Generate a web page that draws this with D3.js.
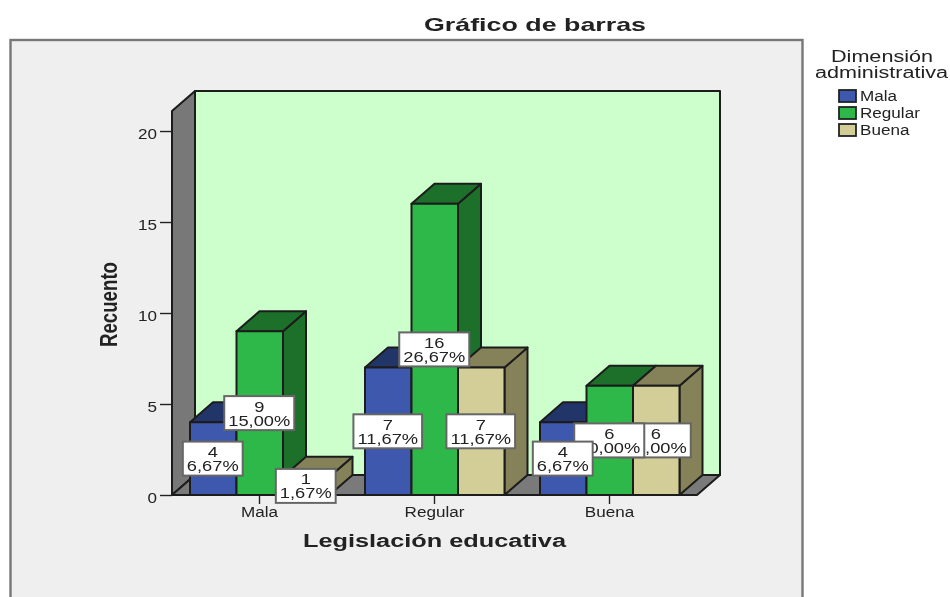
<!DOCTYPE html>
<html>
<head>
<meta charset="utf-8">
<script src="https://cdn.jsdelivr.net/npm/d3@7"></script>
<style>
  body { margin: 0; background: #fff; }
  svg { display: block; }
  text { font-family: "Liberation Sans", Arial, sans-serif; fill: #222; }
</style>
</head>
<body>
<svg id="chart" width="950" height="597"></svg>
<script>
// values
const categories = ["Mala", "Regular", "Buena"];
const series = ["Mala", "Regular", "Buena"];
const counts = [[4, 9, 1], [7, 16, 7], [4, 6, 6]];
const percents = [["6,67%", "15,00%", "1,67%"], ["11,67%", "26,67%", "11,67%"], ["6,67%", "10,00%", "10,00%"]];
const yTicks = [0, 5, 10, 15, 20];

const fronts = ["#3e58ac", "#2eb848", "#d3ce97"];
const tops = ["#233669", "#1c6f2c", "#858159"];

const dx = 23, dy = -20; // depth of the 3d box
const stretch = 1.22;    // the picture is stretched sideways

const svg = d3.select("#chart");
svg.append("defs").append("filter").attr("id", "soft")
  .append("feGaussianBlur").attr("stdDeviation", 0.45);
const root = svg.append("g").attr("filter", "url(#soft)");

const x = d3.scaleBand().domain(categories).range([172, 697]);
const x1 = d3.scaleBand().domain(series).range([18, 157.5]);
const y = d3.scaleLinear().domain([0, 21.1]).range([495, 111]);

const line = d3.line();
const poly = (pts, fill) => root.append("path")
  .attr("d", line(pts) + "Z")
  .attr("fill", fill).attr("stroke", "#1c1c1c").attr("stroke-width", 2)
  .attr("stroke-linejoin", "round");

// stretch a text to k times its natural width
function widen(t, k) {
  t.attr("textLength", t.node().getComputedTextLength() * k)
    .attr("lengthAdjust", "spacingAndGlyphs");
  return t;
}
function label(txt, px, py, size, weight, width, anchor) {
  const t = root.append("text").attr("x", px).attr("y", py)
    .attr("font-size", size).attr("font-weight", weight)
    .attr("text-anchor", anchor || "middle").text(txt);
  t.attr("textLength", width).attr("lengthAdjust", "spacingAndGlyphs");
  return t;
}

// outer panel
root.append("rect").attr("x", 10.5).attr("y", 40).attr("width", 792).attr("height", 620)
  .attr("fill", "#efefef").attr("stroke", "#777").attr("stroke-width", 2.4);

// walls and floor
const x0 = x.range()[0], xEnd = x.range()[1];
const yBase = y(0), yTop = y.range()[1];
poly([[x0 + dx, yBase + dy], [xEnd + dx, yBase + dy], [xEnd + dx, yTop + dy], [x0 + dx, yTop + dy]], "#ccffcc");
poly([[x0, yBase], [x0 + dx, yBase + dy], [x0 + dx, yTop + dy], [x0, yTop]], "#787878");
poly([[x0, yBase], [xEnd, yBase], [xEnd + dx, yBase + dy], [x0 + dx, yBase + dy]], "#7a7a7a");

// axes
const yAxis = root.append("g").attr("transform", `translate(${x0},0)`)
  .call(d3.axisLeft(y).tickValues(yTicks).tickSize(12).tickPadding(3));
yAxis.select(".domain").remove();
yAxis.selectAll("line").attr("stroke", "#222").attr("stroke-width", 1.4);
yAxis.selectAll("text").attr("font-size", 14).attr("dy", "0.5em")
  .style("font-family", '"Liberation Sans"').each(function() { widen(d3.select(this), stretch); });

const xAxis = root.append("g").attr("transform", `translate(0,${yBase})`)
  .call(d3.axisBottom(x).tickSize(9).tickPadding(3));
xAxis.select(".domain").remove();
xAxis.selectAll("line").attr("stroke", "#222").attr("stroke-width", 1.4);
xAxis.selectAll("text").attr("font-size", 14)
  .style("font-family", '"Liberation Sans"').each(function() { widen(d3.select(this), stretch); });

// bars, left to right so that each front hides its neighbour's side
categories.forEach((c, i) => {
  series.forEach((s, j) => {
    const l = x(c) + x1(s), r = l + x1.bandwidth();
    const t = y(counts[i][j]);
    poly([[r, yBase], [r + dx, yBase + dy], [r + dx, t + dy], [r, t]], tops[j]);
    poly([[l, t], [r, t], [r + dx, t + dy], [l + dx, t + dy]], tops[j]);
    poly([[l, yBase], [r, yBase], [r, t], [l, t]], fronts[j]);
  });
});

// data labels, last series first: the first series sits on top in the picture
categories.forEach((c, i) => {
  d3.reverse(series).forEach((s) => {
    const j = series.indexOf(s);
    const cx = x(c) + x1(s) + x1.bandwidth() / 2 - 0.5;
    const cy = y(counts[i][j] / 2);
    const box = root.append("rect").attr("fill", "#fff").attr("stroke", "#666").attr("stroke-width", 2);
    const t = root.append("text").attr("transform", `translate(${cx},${cy}) scale(${stretch},1)`)
      .attr("font-size", 15).attr("text-anchor", "middle");
    t.append("tspan").attr("x", 0).attr("y", -1.5).text(counts[i][j]);
    const pct = t.append("tspan").attr("x", 0).attr("y", 12.5).text(percents[i][j]);
    const w = pct.node().getComputedTextLength() * stretch;
    box.attr("x", cx - w / 2 - 4).attr("y", cy - 17).attr("width", w + 8).attr("height", 34);
  });
});

// titles
label("Gráfico de barras", 535, 31, 19, "bold", 222);
label("Legislación educativa", 434.5, 547, 18, "bold", 263);
label("Recuento", 0, 0, 24, "bold", 85).attr("transform", "translate(117,304.5) rotate(-90)");

// legend
label("Dimensión", 882, 62, 16, "normal", 102);
label("administrativa", 881.5, 78, 16, "normal", 133);
const ly = d3.scalePoint().domain(series).range([96, 130]);
series.forEach((s, j) => {
  root.append("rect").attr("x", 839).attr("y", ly(s) - 6).attr("width", 17).attr("height", 12)
    .attr("fill", fronts[j]).attr("stroke", "#222").attr("stroke-width", 1.8);
  widen(root.append("text").attr("x", 860).attr("y", ly(s) + 5).attr("font-size", 14).text(s), stretch);
});
</script>
</body>
</html>
